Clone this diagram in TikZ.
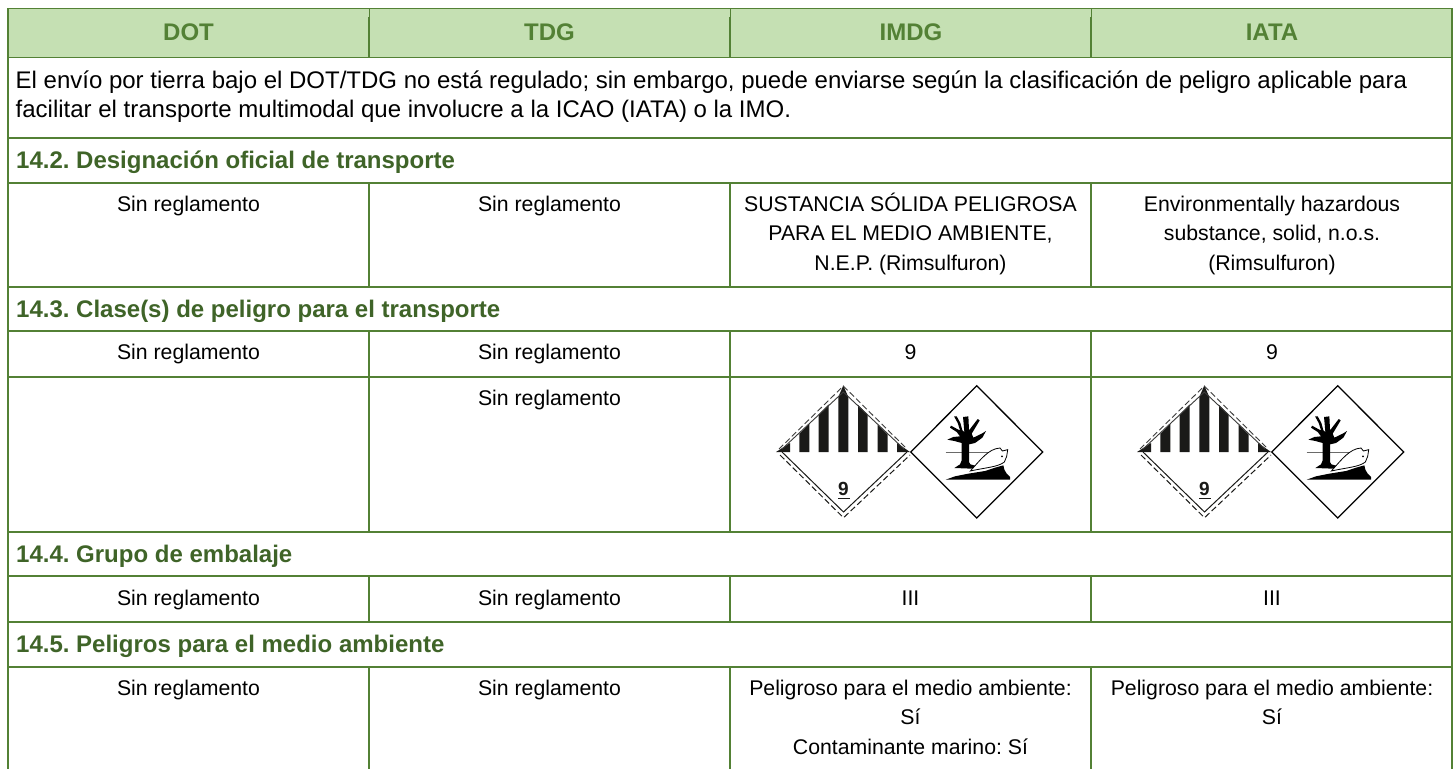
\documentclass[tikz,border=0pt]{standalone}
\usepackage{fontspec}
\setmainfont{Liberation Sans}
\frenchspacing
\definecolor{gline}{HTML}{538135}
\definecolor{gdark}{HTML}{3F6428}
\definecolor{ghead}{HTML}{C5E0B3}
\definecolor{ink}{HTML}{1A1A18}
\tikzset{
  x=1pt,y=-1pt,
  grid/.style={draw=gline,line width=1.6pt},
  hairgrid/.style={draw=gline,line width=1pt},
  headtxt/.style={font=\fontsize{24}{29}\selectfont\bfseries,text=gline,anchor=base,inner sep=0pt},
  sectxt/.style={font=\fontsize{24}{29}\selectfont\bfseries,text=gdark,anchor=base west,inner sep=0pt},
  celltxt/.style={font=\fontsize{21.25}{29}\selectfont,text=black,anchor=base,inner sep=0pt},
  para/.style={font=\fontsize{24}{29}\selectfont,text=black,anchor=base west,inner sep=0pt},
}
\newcommand{\placards}[1]{%
\begin{scope}[shift={(#1,452)}]
  % class 9 placard: bars
  \fill[ink] (-1,0) -- (13,0) -- (13,-9) -- cycle;
  \fill[ink] (133,0) -- (120,0) -- (120,-9) -- cycle;
  \foreach \a/\b in {22.3/32.3,41.7/51.7,100.7/110.7,81/90.7}{
    \pgfmathsetmacro{\ha}{min(\a,132-\a)-4}
    \pgfmathsetmacro{\hb}{min(\b,132-\b)-4}
    \fill[ink] (\a,0) -- (\b,0) -- (\b,-\hb) -- (\a,-\ha) -- cycle;
  }
  \fill[ink] (61.3,0) -- (71.3,0) -- (71.3,-55) -- (66.3,-66.5) -- (61.3,-55) -- cycle;
  % class 9 placard: outlines
  \draw[ink!85,line width=0.9pt] (5,-3) -- (66.3,-60) -- (127,-3);
  \draw[ink!85,line width=0.9pt,dash pattern=on 6pt off 3pt] (2,-3) -- (66.3,-66) -- (130,-3);
  \draw[ink,line width=1pt] (5,0) -- (66.5,60) -- (130,0);
  \draw[ink,line width=1pt,dash pattern=on 6pt off 3pt] (3,3) -- (66.5,65.7) -- (133,3);
  \node[font=\fontsize{19}{19}\selectfont\bfseries,text=ink,anchor=base,inner sep=0pt] at (66.5,43) {9};
  \fill[ink] (60.5,45.6) rectangle (73,46.9);
  % environment placard
  \draw[black,line width=1.3pt] (133.8,0) -- (199.7,-66.3) -- (265.7,0) -- (199.7,66) -- cycle;
  \begin{scope}[shift={(128.03,-71.67)},scale=0.3333]
    \draw[ink!65,line width=0.9pt] (122,215) -- (258,215);
    \fill[black] (147,108) -- (155,108) -- (166,128) -- (172,150) -- (178,155) -- (174,110) -- (190,108)
      -- (192,150) -- (218,116) -- (224,120) -- (200,160) -- (205,172) -- (230,160) -- (243,152)
      -- (232,172) -- (210,188) -- (192,192) -- (192,245) -- (196,252) -- (218,258) -- (200,265)
      -- (148,263) -- (165,252) -- (170,240) -- (170,188) -- (148,182) -- (127,178) -- (145,170)
      -- (165,168) -- (155,155) -- (135,142) -- (138,136) -- (160,148) -- (165,150) -- (158,128) -- cycle;
    \fill[black] (122,298) -- (150,288) -- (190,280) -- (215,276) -- (240,272) -- (270,262) -- (295,255)
      -- (298,268) -- (305,280) -- (315,290) -- (315,298) -- cycle;
    \draw[black,fill=white,line width=0.8pt] (196,272) .. controls (225,240) and (250,205) .. (285,203)
      -- (292,212) -- (308,208) -- (305,228) -- (298,245) .. controls (280,260) and (240,262) .. (196,272) -- cycle;
    \fill[black] (291,228) circle (3);
  \end{scope}
\end{scope}}
\begin{document}
\begin{tikzpicture}
\useasboundingbox (0,0) rectangle (1455,769);
\fill[white] (0,0) rectangle (1455,769);
\fill[ghead] (8,8.5) rectangle (1452,57);
\draw[hairgrid] (7.5,8.5) -- (1452.5,8.5);
\foreach \y in {57.3,137.7,182.8,286.7,330.7,376.7,531.7,576,621.7,666.7}{\draw[grid] (7.5,\y) -- (1452.5,\y);}
\draw[grid] (8,8) -- (8,769);
\draw[grid] (1452,8) -- (1452,769);
\foreach \x in {369,730,1091}{
  \draw[hairgrid] (\x,8.5) -- (\x,17);
  \draw[grid] (\x,17) -- (\x,57);
  \draw[grid] (\x,182.8) -- (\x,286.7);
  \draw[grid] (\x,330.7) -- (\x,531.7);
  \draw[grid] (\x,576) -- (\x,621.7);
  \draw[grid] (\x,666.7) -- (\x,769);
}
\node[headtxt] (hdot) at (188.5,40) {DOT};
\node[headtxt] (htdg) at (549.5,40) {TDG};
\node[headtxt] (himdg) at (911,40) {IMDG};
\node[headtxt] (hiata) at (1272,40) {IATA};
\node[para] (p1) at (15.5,88) {El envío por tierra bajo el DOT/TDG no está regulado; sin embargo, puede enviarse según la clasificación de peligro aplicable para};
\node[para] (p2) at (15.5,117) {facilitar el transporte multimodal que involucre a la ICAO (IATA) o la IMO.};
\node[sectxt] (s2) at (16,168) {14.2. Designación oficial de transporte};
\node[sectxt] (s3) at (16,317.5) {14.3. Clase(s) de peligro para el transporte};
\node[sectxt] (s4) at (16,562.7) {14.4. Grupo de embalaje};
\node[sectxt] (s5) at (16,652.7) {14.5. Peligros para el medio ambiente};
\node[celltxt] (a1) at (188.5,211) {Sin reglamento};
\node[celltxt] (a2) at (549.5,211) {Sin reglamento};
\node[celltxt] (a3l1) at (910.5,211) {SUSTANCIA SÓLIDA PELIGROSA};
\node[celltxt] (a3l2) at (910.5,240.5) {PARA EL MEDIO AMBIENTE,};
\node[celltxt] (a3l3) at (910.5,270) {N.E.P. (Rimsulfuron)};
\node[celltxt] (a4l1) at (1272,211) {Environmentally hazardous};
\node[celltxt] (a4l2) at (1272,240.5) {substance, solid, n.o.s.};
\node[celltxt] (a4l3) at (1272,270) {(Rimsulfuron)};
\node[celltxt] (b1) at (188.5,359) {Sin reglamento};
\node[celltxt] (b2) at (549.5,359) {Sin reglamento};
\node[celltxt] (b3) at (910.5,359) {9};
\node[celltxt] (b4) at (1272,359) {9};
\node[celltxt] (c2) at (549.5,405) {Sin reglamento};
\node[celltxt] (d1) at (188.5,605) {Sin reglamento};
\node[celltxt] (d2) at (549.5,605) {Sin reglamento};
\node[celltxt] (d3) at (910.5,605) {III};
\node[celltxt] (d4) at (1272,605) {III};
\node[celltxt] (e1) at (188.5,695) {Sin reglamento};
\node[celltxt] (e2) at (549.5,695) {Sin reglamento};
\node[celltxt] (e3l1) at (910.5,695) {Peligroso para el medio ambiente:};
\node[celltxt] (e3l2) at (910.5,724.5) {Sí};
\node[celltxt] (e3l3) at (910.5,754) {Contaminante marino: Sí};
\node[celltxt] (e4l1) at (1272,695) {Peligroso para el medio ambiente:};
\node[celltxt] (e4l2) at (1272,724.5) {Sí};
\placards{777}
\placards{1138}
\end{tikzpicture}
\end{document}
